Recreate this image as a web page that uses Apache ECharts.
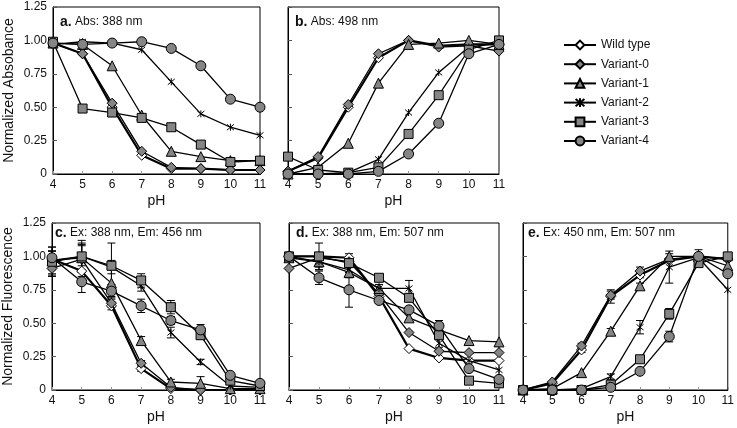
<!DOCTYPE html>
<html><head><meta charset="utf-8">
<script src="https://cdn.jsdelivr.net/npm/echarts@6/dist/echarts.min.js"></script>
<style>html,body{margin:0;padding:0;background:#fff}#c{width:737px;height:428px}</style>
</head><body><div id="c"></div>
<script>
const pH = [4,5,6,7,8,9,10,11];
const seriesNames = ['Wild type','Variant-0','Variant-1','Variant-2','Variant-3','Variant-4'];
const yTickLabels = ['0','0.25','0.50','0.75','1.00','1.25'];

// Panel a: Abs 388 nm
const aWild = [0.98,0.90,0.50,0.14,0.04,0.04,0.03,0.03];
const aV0   = [0.98,0.90,0.53,0.17,0.05,0.04,0.03,0.03];
const aV1   = [0.98,0.97,0.81,0.44,0.17,0.13,0.10,0.10];
const aV2   = [0.97,0.99,0.98,0.93,0.69,0.45,0.35,0.29];
const aV3   = [0.99,0.49,0.46,0.42,0.35,0.22,0.09,0.10];
const aV4   = [0.98,0.97,0.98,0.99,0.94,0.81,0.56,0.50];
// Panel b: Abs 498 nm
const bWild = [0.02,0.12,0.50,0.87,1.00,0.96,0.97,0.97];
const bV0   = [0.02,0.13,0.52,0.90,1.00,0.95,0.96,0.92];
const bV1   = [0.00,0.05,0.23,0.68,0.97,0.98,1.00,0.97];
const bV2   = [0.00,0.00,0.01,0.11,0.46,0.76,0.95,0.98];
const bV3   = [0.13,0.03,0.01,0.05,0.30,0.59,0.93,1.00];
const bV4   = [0.00,0.00,0.00,0.02,0.15,0.38,0.90,0.97];
// Panel c: Ex 388 / Em 456
const cWild = [0.98,0.89,0.63,0.16,0.01,0.00,0.00,0.00];
const cV0   = [0.91,0.98,0.65,0.20,0.02,0.00,0.00,0.00];
const cV1   = [0.97,0.99,0.80,0.37,0.06,0.05,0.01,0.01];
const cV2   = [0.97,1.00,0.92,0.78,0.43,0.21,0.03,0.02];
const cV3   = [0.96,1.00,0.93,0.82,0.62,0.41,0.07,0.03];
const cV4   = [0.99,0.81,0.74,0.63,0.52,0.45,0.11,0.05];
const cErrWild = [0.06,0.04,0.03,0.02,0,0,0,0];
const cErrV0   = [0.05,0.10,0.03,0.02,0,0,0,0];
const cErrV1   = [0.07,0.10,0.10,0.03,0.02,0.05,0,0];
const cErrV2   = [0.10,0.10,0.05,0.04,0.04,0.02,0,0];
const cErrV3   = [0.11,0.12,0.17,0.05,0.05,0.03,0.02,0];
const cErrV4   = [0.05,0.08,0.05,0.05,0.03,0.04,0.02,0.02];
// Panel d: Ex 388 / Em 507
const dWild = [1.00,1.00,0.99,0.70,0.31,0.24,0.22,0.22];
const dV0   = [0.91,0.99,0.96,0.72,0.43,0.29,0.28,0.28];
const dV1   = [0.99,0.96,0.88,0.76,0.54,0.45,0.37,0.36];
const dV2   = [1.00,0.96,0.90,0.76,0.76,0.35,0.22,0.15];
const dV3   = [1.00,1.00,0.95,0.84,0.69,0.41,0.07,0.05];
const dV4   = [1.00,0.84,0.75,0.67,0.60,0.48,0.16,0.08];
const dErrWild = [0,0,0.03,0,0,0,0,0];
const dErrV0   = [0,0,0,0,0,0,0,0];
const dErrV1   = [0,0.04,0.04,0,0,0,0,0];
const dErrV2   = [0,0.06,0.04,0.03,0.06,0.03,0,0];
const dErrV3   = [0,0.10,0.03,0.02,0.03,0.03,0,0];
const dErrV4   = [0,0.05,0.13,0.02,0.02,0.04,0,0];
// Panel e: Ex 450 / Em 507
const eWild = [0.00,0.05,0.30,0.70,0.86,0.97,1.00,0.98];
const eV0   = [0.00,0.06,0.33,0.71,0.89,0.98,1.00,0.98];
const eV1   = [0.00,0.01,0.13,0.44,0.78,1.00,1.00,0.93];
const eV2   = [0.00,0.00,0.01,0.10,0.47,0.92,0.99,0.75];
const eV3   = [0.00,0.00,0.00,0.04,0.23,0.57,0.95,1.00];
const eV4   = [0.00,0.00,0.00,0.02,0.14,0.40,1.00,0.87];
const eErrWild = [0,0,0.02,0.05,0.02,0,0,0];
const eErrV0   = [0,0,0.02,0.03,0.03,0,0,0];
const eErrV1   = [0,0,0,0.02,0.02,0.02,0,0];
const eErrV2   = [0,0,0,0.02,0.05,0.12,0,0];
const eErrV3   = [0,0,0,0,0,0.04,0,0];
const eErrV4   = [0,0,0,0,0,0.04,0.05,0];

const panels = [
  {label:'a.', sub:' Abs: 388 nm', data:[aWild,aV0,aV1,aV2,aV3,aV4], err:null, yName:'Normalized Absobance', yLabels:true},
  {label:'b.', sub:' Abs: 498 nm', data:[bWild,bV0,bV1,bV2,bV3,bV4], err:null, yName:'', yLabels:false},
  {label:'c.', sub:' Ex: 388 nm, Em: 456 nm', data:[cWild,cV0,cV1,cV2,cV3,cV4], err:[cErrWild,cErrV0,cErrV1,cErrV2,cErrV3,cErrV4], yName:'Normalized Fluorescence', yLabels:true},
  {label:'d.', sub:' Ex: 388 nm, Em: 507 nm', data:[dWild,dV0,dV1,dV2,dV3,dV4], err:[dErrWild,dErrV0,dErrV1,dErrV2,dErrV3,dErrV4], yName:'', yLabels:false},
  {label:'e.', sub:' Ex: 450 nm, Em: 507 nm', data:[eWild,eV0,eV1,eV2,eV3,eV4], err:[eErrWild,eErrV0,eErrV1,eErrV2,eErrV3,eErrV4], yName:'', yLabels:false}
];
const gridBoxes = [
  {left:53, top:7, width:207, height:167},
  {left:288, top:7, width:211, height:167},
  {left:52, top:223, width:208, height:167},
  {left:289, top:223, width:210, height:167},
  {left:523, top:223, width:208, height:167}
];
const labelPos = [[60,15],[295,15],[55,226],[296,226],[528,226]];

const FONT = 'Liberation Sans, Arial, sans-serif';
const GRAY = '#858585';
const star = 'path://M0,0L10,10M10,0L0,10M5,-1L5,11';
const styles = [
  {symbol:'diamond', size:10, fill:'#ffffff', lw:2.2},
  {symbol:'diamond', size:10, fill:GRAY, lw:1.3},
  {symbol:'triangle', size:10, fill:GRAY, lw:1.3},
  {symbol:star, size:7, fill:'#000', lw:1.3},
  {symbol:'rect', size:9, fill:GRAY, lw:1.3},
  {symbol:'circle', size:10, fill:GRAY, lw:1.3}
];

const grids = [], xAxes = [], yAxes = [], series = [], graphics = [];
panels.forEach((p, i) => {
  const g = gridBoxes[i];
  grids.push(Object.assign({show:true, borderColor:'#000', borderWidth:1, backgroundColor:'#fff'}, g));
  xAxes.push({
    gridIndex:i, type:'value', min:4, max:11, interval:1,
    name:'pH', nameLocation:'middle', nameGap:20,
    nameTextStyle:{fontFamily:FONT, fontSize:14, color:'#111'},
    axisLine:{show:true, lineStyle:{color:'#000'}},
    axisTick:{show:true, inside:true, length:3, lineStyle:{color:'#999'}},
    axisLabel:{fontFamily:FONT, fontSize:12, color:'#111', margin:5},
    splitLine:{show:false}
  });
  yAxes.push({
    gridIndex:i, type:'value', min:0, max:1.25, interval:0.25,
    name:p.yName, nameLocation:'middle', nameGap:37,
    nameTextStyle:{fontFamily:FONT, fontSize:14, color:'#111'},
    axisLine:{show:true, lineStyle:{color:'#000'}},
    axisTick:{show:true, inside:true, length:4, lineStyle:{color:'#555'}},
    axisLabel:{show:p.yLabels, fontFamily:FONT, fontSize:12, color:'#111', margin:6,
      formatter:(v)=> yTickLabels[Math.round(v/0.25)]},
    splitLine:{show:false}
  });
  if (p.err) {
    p.data.forEach((vals, s) => {
      const eb = [];
      vals.forEach((v, k) => { if (p.err[s][k] > 0) eb.push([pH[k], v - p.err[s][k], v + p.err[s][k]]); });
      series.push({
        type:'custom', xAxisIndex:i, yAxisIndex:i, silent:true, z:1,
        data:eb,
        renderItem:(params, api) => {
          const top = api.coord([api.value(0), api.value(2)]);
          const bot = api.coord([api.value(0), api.value(1)]);
          const w = 4;
          return {type:'group', children:[
            {type:'line', shape:{x1:top[0], y1:top[1], x2:bot[0], y2:bot[1]}, style:{stroke:'#000', lineWidth:1}},
            {type:'line', shape:{x1:top[0]-w, y1:top[1], x2:top[0]+w, y2:top[1]}, style:{stroke:'#000', lineWidth:1}},
            {type:'line', shape:{x1:bot[0]-w, y1:bot[1], x2:bot[0]+w, y2:bot[1]}, style:{stroke:'#000', lineWidth:1}}
          ]};
        }
      });
    });
  }
  p.data.forEach((vals, s) => {
    const st = styles[s];
    series.push({
      type:'line', name:seriesNames[s], xAxisIndex:i, yAxisIndex:i, z:2 + s,
      data: vals.map((v, k) => [pH[k], v]),
      symbol:st.symbol, symbolSize:st.size, showAllSymbol:true,
      lineStyle:{color:'#000', width:st.lw},
      itemStyle:{color:st.fill, borderColor:'#000', borderWidth:1},
      emphasis:{disabled:true}, animation:false
    });
  });
  graphics.push({
    type:'text', left:labelPos[i][0], top:labelPos[i][1], z:10,
    style:{
      text:'{b|' + p.label + '}{n|' + p.sub + '}',
      rich:{
        b:{fontFamily:FONT, fontSize:14, fontWeight:'bold', fill:'#111'},
        n:{fontFamily:FONT, fontSize:12, fill:'#111'}
      }
    }
  });
});

const chart = echarts.init(document.getElementById('c'), null, {renderer:'canvas'});
chart.setOption({
  animation:false,
  backgroundColor:'#fff',
  grid:grids, xAxis:xAxes, yAxis:yAxes, series:series, graphic:graphics,
  legend:{
    data:seriesNames, orient:'vertical', left:558, top:34,
    itemWidth:32, itemHeight:11, itemGap:7.2, selectedMode:false,
    textStyle:{fontFamily:FONT, fontSize:12, color:'#111'}
  }
});
</script>
</body></html>
